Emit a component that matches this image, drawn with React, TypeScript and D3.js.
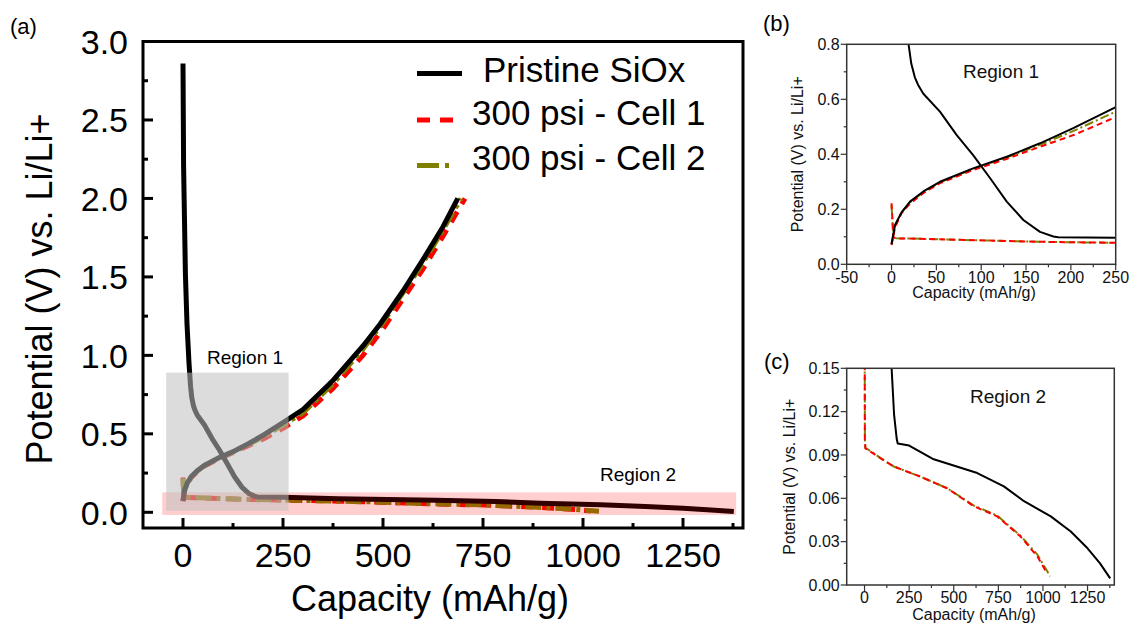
import React, { useEffect, useRef } from 'react';
import * as d3 from 'd3';

type Pt = [number, number];

// capacity (mAh/g), potential (V vs. Li/Li+)
const pristineDischarge: Pt[] = [
  [0, 2.86], [1.5, 2.2], [6, 1.52], [10, 1.2], [15, 0.95], [19, 0.8], [22, 0.73], [26, 0.68],
  [30, 0.65], [35.5, 0.62], [54, 0.555], [72.7, 0.47], [91, 0.397], [110, 0.313], [128.5, 0.228],
  [147, 0.161], [165.6, 0.118], [180.5, 0.101], [186, 0.098], [250, 0.0965], [388, 0.087],
  [632, 0.0775], [781, 0.0683], [894, 0.058], [1044, 0.0475], [1156, 0.037], [1250, 0.0254],
  [1320, 0.015], [1377, 0.0046],
];
const pristineCharge: Pt[] = [
  [0, 0.073], [3.9, 0.143], [11.4, 0.19], [20.6, 0.228], [35.5, 0.265], [54, 0.3], [91, 0.349],
  [128.5, 0.391], [165.6, 0.44], [202.7, 0.495], [249, 0.57], [300, 0.655], [375, 0.84],
  [450, 1.06], [493, 1.2], [550, 1.41], [600, 1.61], [650, 1.82], [687, 2.0],
];
const cell1Discharge: Pt[] = [
  [0, 0.222], [2, 0.1], [4.5, 0.0946], [42, 0.0916], [100, 0.087], [164, 0.082], [313, 0.075],
  [463, 0.067], [613, 0.0545], [744, 0.0475], [875, 0.0335], [969, 0.0197], [1005, 0.012],
  [1020, 0.008],
];
const cell1Charge: Pt[] = [
  [0, 0.07], [4, 0.135], [11, 0.185], [21, 0.222], [36, 0.26], [54, 0.295], [91, 0.343],
  [128, 0.383], [166, 0.428], [203, 0.47], [250, 0.535], [300, 0.615], [375, 0.79], [450, 1.0],
  [500, 1.17], [550, 1.36], [600, 1.55], [650, 1.76], [705, 2.0],
];
const cell2Discharge: Pt[] = [
  [0, 0.215], [2, 0.1], [5, 0.095], [42, 0.092], [100, 0.087], [164, 0.082], [313, 0.075],
  [463, 0.067], [613, 0.055], [744, 0.048], [875, 0.034], [969, 0.021], [1025, 0.0093],
  [1040, 0.006],
];
const cell2Charge: Pt[] = [
  [0, 0.075], [4, 0.14], [11, 0.188], [21, 0.226], [36, 0.263], [54, 0.298], [91, 0.347],
  [128, 0.388], [166, 0.435], [203, 0.485], [250, 0.555], [300, 0.635], [375, 0.82], [450, 1.04],
  [500, 1.21], [550, 1.4], [600, 1.59], [650, 1.8], [695, 2.0],
];

const legendLabels = ['Pristine SiOx', '300 psi - Cell 1', '300 psi - Cell 2'];
const seriesColors = ['#000000', '#ff0000', '#808000'];

const FONT = '"Liberation Sans", Arial, sans-serif';

const App = () => {
  const ref = useRef<SVGSVGElement>(null);

  useEffect(() => {
    if (!ref.current) return;
    const svg = d3.select(ref.current);
    svg.selectAll('*').remove();
    svg.attr('font-family', FONT);

    const line = (xs: any, ys: any) =>
      d3.line<Pt>().x(d => xs(d[0])).y(d => ys(d[1])).curve(d3.curveLinear);

    // ---------- (a) main panel ----------
    const xA = d3.scaleLinear().domain([-100, 1400]).range([143, 743]);
    const yA = d3.scaleLinear().domain([-0.1, 3.0]).range([528, 41.5]);
    const lA = line(xA, yA);

    const styleA = [
      { sets: [cell1Discharge, cell1Charge], color: seriesColors[1], dash: '12,9' },
      { sets: [cell2Discharge, cell2Charge], color: seriesColors[2], dash: '16,5,4,5' },
      { sets: [pristineDischarge, pristineCharge], color: seriesColors[0], dash: null },
    ];
    styleA.forEach(s => {
      s.sets.forEach(data => {
        svg.append('path')
          .attr('d', lA(data))
          .attr('fill', 'none')
          .attr('stroke', s.color)
          .attr('stroke-width', 5)
          .attr('stroke-linejoin', 'round')
          .attr('stroke-dasharray', s.dash);
      });
    });

    // region boxes over the curves
    svg.append('rect')
      .attr('x', xA(-52)).attr('y', yA(0.127))
      .attr('width', xA(1383) - xA(-52)).attr('height', yA(-0.017) - yA(0.127))
      .attr('fill', '#ff0000').attr('opacity', 0.19);
    svg.append('rect')
      .attr('x', xA(-42)).attr('y', yA(0.89))
      .attr('width', xA(264) - xA(-42)).attr('height', yA(0.01) - yA(0.89))
      .attr('fill', '#c0c0c0').attr('opacity', 0.55);

    svg.append('text').attr('x', 207).attr('y', 364).attr('font-size', 19).text('Region 1');
    svg.append('text').attr('x', 600).attr('y', 481).attr('font-size', 19).text('Region 2');

    // frame
    svg.append('rect')
      .attr('x', 143).attr('y', 41.5).attr('width', 600).attr('height', 486.5)
      .attr('fill', 'none').attr('stroke', '#000').attr('stroke-width', 3);

    // ticks (inward)
    d3.range(0, 3.01, 0.5).forEach(v => {
      svg.append('line').attr('x1', 143).attr('x2', 153).attr('y1', yA(v)).attr('y2', yA(v))
        .attr('stroke', '#000').attr('stroke-width', 3);
      svg.append('text').attr('x', 128).attr('y', yA(v)).attr('dy', '0.36em')
        .attr('text-anchor', 'end').attr('font-size', 34).text(d3.format('.1f')(v));
    });
    d3.range(0.25, 3, 0.5).forEach(v => {
      svg.append('line').attr('x1', 143).attr('x2', 148).attr('y1', yA(v)).attr('y2', yA(v))
        .attr('stroke', '#000').attr('stroke-width', 3);
    });
    d3.range(0, 1251, 250).forEach(v => {
      svg.append('line').attr('x1', xA(v)).attr('x2', xA(v)).attr('y1', 528).attr('y2', 518)
        .attr('stroke', '#000').attr('stroke-width', 3);
      svg.append('text').attr('x', xA(v)).attr('y', 567).attr('text-anchor', 'middle')
        .attr('font-size', 34).text(String(v));
    });
    d3.range(125, 1400, 250).forEach(v => {
      svg.append('line').attr('x1', xA(v)).attr('x2', xA(v)).attr('y1', 528).attr('y2', 523)
        .attr('stroke', '#000').attr('stroke-width', 3);
    });

    svg.append('text').attr('x', 430).attr('y', 611).attr('text-anchor', 'middle')
      .attr('font-size', 36).text('Capacity (mAh/g)');
    svg.append('text').attr('transform', 'translate(52,289) rotate(-90)')
      .attr('text-anchor', 'middle').attr('font-size', 36).text('Potential (V) vs. Li/Li+');
    svg.append('text').attr('x', 10).attr('y', 34).attr('font-size', 22).text('(a)');

    // legend
    const legY = [73.5, 120, 165.5];
    const legTextX = [483, 472, 472];
    const legTextY = [81.7, 125, 170];
    const legDash = [null, '13,10', '22,6,4,20'];
    legendLabels.forEach((lab, i) => {
      svg.append('line').attr('x1', 417).attr('x2', i === 0 ? 462 : 458)
        .attr('y1', legY[i]).attr('y2', legY[i])
        .attr('stroke', seriesColors[i]).attr('stroke-width', 5)
        .attr('stroke-dasharray', legDash[i]);
      svg.append('text').attr('x', legTextX[i]).attr('y', legTextY[i])
        .attr('font-size', 35).text(lab);
    });

    // ---------- inset panels ----------
    const drawInset = (opts: any) => {
      const { x0, x1, y0, y1, xDom, yDom, xMaj, xMin, yMaj, yMin, yFmt, sets, clipId } = opts;
      const xs = d3.scaleLinear().domain(xDom).range([x0, x1]);
      const ys = d3.scaleLinear().domain(yDom).range([y1, y0]);
      const ln = line(xs, ys);
      svg.append('clipPath').attr('id', clipId).append('rect')
        .attr('x', x0).attr('y', y0).attr('width', x1 - x0).attr('height', y1 - y0);
      const g = svg.append('g').attr('clip-path', `url(#${clipId})`);
      sets.forEach((s: any) => {
        g.append('path').attr('d', ln(s.data)).attr('fill', 'none')
          .attr('stroke', s.color).attr('stroke-width', 2)
          .attr('stroke-linejoin', 'round').attr('stroke-dasharray', s.dash);
      });
      svg.append('rect').attr('x', x0).attr('y', y0).attr('width', x1 - x0).attr('height', y1 - y0)
        .attr('fill', 'none').attr('stroke', '#333').attr('stroke-width', 1.5);
      yMaj.forEach((v: number) => {
        svg.append('line').attr('x1', x0 - 6).attr('x2', x0).attr('y1', ys(v)).attr('y2', ys(v))
          .attr('stroke', '#333').attr('stroke-width', 1.2);
        svg.append('text').attr('x', x0 - 7).attr('y', ys(v)).attr('dy', '0.36em')
          .attr('text-anchor', 'end').attr('font-size', 16).attr('fill', '#111').text(yFmt(v));
      });
      yMin.forEach((v: number) => {
        svg.append('line').attr('x1', x0 - 3).attr('x2', x0).attr('y1', ys(v)).attr('y2', ys(v))
          .attr('stroke', '#333').attr('stroke-width', 1.2);
      });
      xMaj.forEach((v: number) => {
        svg.append('line').attr('x1', xs(v)).attr('x2', xs(v)).attr('y1', y1).attr('y2', y1 + 6)
          .attr('stroke', '#333').attr('stroke-width', 1.2);
        svg.append('text').attr('x', xs(v)).attr('y', opts.xLabY).attr('text-anchor', 'middle')
          .attr('font-size', 16).attr('fill', '#111').text(String(v));
      });
      xMin.forEach((v: number) => {
        svg.append('line').attr('x1', xs(v)).attr('x2', xs(v)).attr('y1', y1).attr('y2', y1 + 3)
          .attr('stroke', '#333').attr('stroke-width', 1.2);
      });
      svg.append('text').attr('x', opts.xTitleX).attr('y', opts.xTitleY).attr('text-anchor', 'middle')
        .attr('font-size', 16).attr('fill', '#111').text('Capacity (mAh/g)');
      svg.append('text').attr('transform', `translate(${opts.yTitleX},${(y0 + y1) / 2}) rotate(-90)`)
        .attr('text-anchor', 'middle').attr('font-size', 16).attr('fill', '#111')
        .text('Potential (V) vs. Li/Li+');
      svg.append('text').attr('x', opts.regX).attr('y', opts.regY).attr('font-size', 19)
        .attr('fill', '#111').text(opts.region);
      svg.append('text').attr('x', opts.tagX).attr('y', opts.tagY).attr('font-size', 22)
        .text(opts.tag);
    };

    drawInset({
      x0: 846.7, x1: 1115.7, y0: 44.3, y1: 264.3,
      xDom: [-50, 250], yDom: [0, 0.8],
      xMaj: d3.range(-50, 251, 50), xMin: d3.range(-25, 250, 50),
      yMaj: d3.range(0, 0.81, 0.2), yMin: d3.range(0.1, 0.8, 0.2),
      yFmt: d3.format('.1f'),
      sets: [
        { data: cell2Discharge, color: seriesColors[2], dash: '9,3,2,3' },
        { data: cell2Charge, color: seriesColors[2], dash: '9,3,2,3' },
        { data: cell1Discharge, color: seriesColors[1], dash: '6,4' },
        { data: cell1Charge, color: seriesColors[1], dash: '6,4' },
        { data: pristineDischarge, color: seriesColors[0], dash: null },
        { data: pristineCharge, color: seriesColors[0], dash: null },
      ],
      clipId: 'clipB', xLabY: 283, xTitleX: 974, xTitleY: 298, yTitleX: 803,
      region: 'Region 1', regX: 963, regY: 78, tag: '(b)', tagX: 763, tagY: 31,
    });

    drawInset({
      x0: 846.7, x1: 1114.3, y0: 368.3, y1: 585,
      xDom: [-100, 1400], yDom: [0, 0.15],
      xMaj: d3.range(0, 1251, 250), xMin: d3.range(125, 1400, 250),
      yMaj: d3.range(0, 0.1501, 0.03), yMin: d3.range(0.015, 0.15, 0.03),
      yFmt: d3.format('.2f'),
      sets: [
        { data: cell2Discharge, color: seriesColors[2], dash: '9,3,2,3' },
        { data: cell1Discharge, color: seriesColors[1], dash: '6,4' },
        { data: pristineDischarge, color: seriesColors[0], dash: null },
      ],
      clipId: 'clipC', xLabY: 603, xTitleX: 974, xTitleY: 620, yTitleX: 795,
      region: 'Region 2', regX: 970, regY: 403, tag: '(c)', tagX: 764, tagY: 369,
    });
  }, []);

  return (
    <svg ref={ref} width={1130} height={625}
      style={{ position: 'absolute', left: 0, top: 0, background: '#fff' }} />
  );
};

export default App;
